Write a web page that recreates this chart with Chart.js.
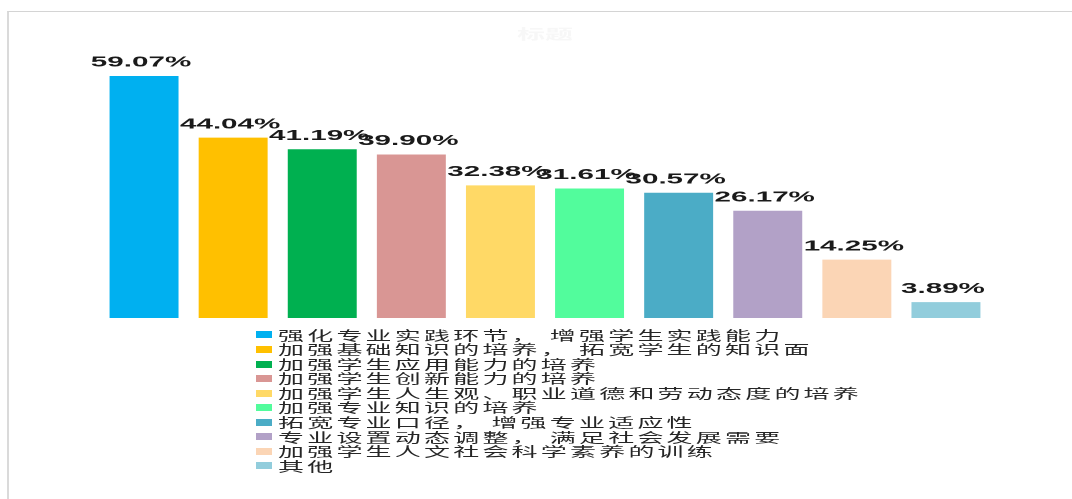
<!DOCTYPE html>
<html>
<head>
<meta charset="utf-8">
<script src="https://cdn.jsdelivr.net/npm/chart.js@4.4.1/dist/chart.umd.min.js"></script>
<style>
  html, body { margin: 0; padding: 0; background: #fff; width: 1072px; height: 499px; overflow: hidden; }
  #frame { position: absolute; left: 7px; top: 11px; right: 0; bottom: 0;
           border-top: 1px solid #d4d4d4; border-left: 2px solid #dadada; }
  /* the original picture is stretched about 2x sideways, so draw narrow and stretch */
  #stretch { position: absolute; left: 0; top: 0; width: 536px; height: 499px;
             transform: scaleX(2); transform-origin: 0 0; }
  #box { position: absolute; left: 0; top: 0; width: 536px; height: 330px; }
  #legend { position: absolute; left: 127.5px; top: 327.7px;
            font: 13px "Noto Sans CJK SC", sans-serif; letter-spacing: 1.6px; color: #262626; }
  .row { height: 14.55px; line-height: 14.55px; white-space: nowrap; display: flex; align-items: center; }
  .sw { width: 8px; height: 7px; margin-right: 3.5px; flex: none; }
</style>
</head>
<body>
<div id="frame"></div>
<div id="stretch">
  <div id="box"><canvas id="myChart"></canvas></div>
  <div id="legend"></div>
</div>
<script>
const categories = [
  '强化专业实践环节， 增强学生实践能力',
  '加强基础知识的培养， 拓宽学生的知识面',
  '加强学生应用能力的培养',
  '加强学生创新能力的培养',
  '加强学生人生观、职业道德和劳动态度的培养',
  '加强专业知识的培养',
  '拓宽专业口径， 增强专业适应性',
  '专业设置动态调整， 满足社会发展需要',
  '加强学生人文社会科学素养的训练',
  '其他'
];
const shares = [59.07, 44.04, 41.19, 39.90, 32.38, 31.61, 30.57, 26.17, 14.25, 3.89];
const colors = [
  '#00b0f0', // blue
  '#ffc000', // amber
  '#00b050', // green
  '#d99694', // rose
  '#ffd966', // light yellow
  '#52fc9c', // mint
  '#4bacc6', // teal blue
  '#b2a1c7', // lavender
  '#fbd5b5', // peach
  '#92cddc'  // pale blue
];

Chart.defaults.font.family = '"Liberation Sans", Arial, sans-serif';

const valueLabels = {
  id: 'valueLabels',
  afterDatasetsDraw(chart) {
    const ctx = chart.ctx;
    const meta = chart.getDatasetMeta(0);
    ctx.save();
    ctx.font = 'bold 14.8px "Liberation Sans", Arial, sans-serif';
    ctx.fillStyle = '#1a1a1a';
    ctx.textAlign = 'center';
    ctx.textBaseline = 'bottom';
    meta.data.forEach((bar, i) => {
      ctx.fillText(shares[i].toFixed(2) + '%', bar.x - 1.5, bar.y - 6);
    });
    ctx.restore();
  }
};

const ctx = document.getElementById('myChart').getContext('2d');
new Chart(ctx, {
  type: 'bar',
  data: {
    labels: categories,
    datasets: [{
      label: '系列1',
      data: shares,
      backgroundColor: colors,
      borderWidth: 0,
      categoryPercentage: 1,
      barPercentage: 0.774
    }]
  },
  options: {
    responsive: true,
    maintainAspectRatio: false,
    animation: false,
    devicePixelRatio: 2,
    layout: {
      padding: { left: 49.75, right: 40.75, top: 0, bottom: 12 }
    },
    scales: {
      x: { display: false },
      y: { display: false, min: 0, max: 60 }
    },
    plugins: {
      legend: { display: false },
      tooltip: { enabled: false },
      title: {
        display: true,
        text: '标题',
        color: '#f7f7f7',
        font: { size: 14, family: '"Noto Sans CJK SC", sans-serif' },
        padding: { top: 26, bottom: 29.4 }
      }
    }
  },
  plugins: [valueLabels]
});

// legend list under the bars, one item per line
const legend = document.getElementById('legend');
categories.forEach((name, i) => {
  const row = document.createElement('div');
  row.className = 'row';
  const sw = document.createElement('span');
  sw.className = 'sw';
  sw.style.background = colors[i];
  const txt = document.createElement('span');
  txt.textContent = name;
  row.appendChild(sw);
  row.appendChild(txt);
  legend.appendChild(row);
});
</script>
</body>
</html>
